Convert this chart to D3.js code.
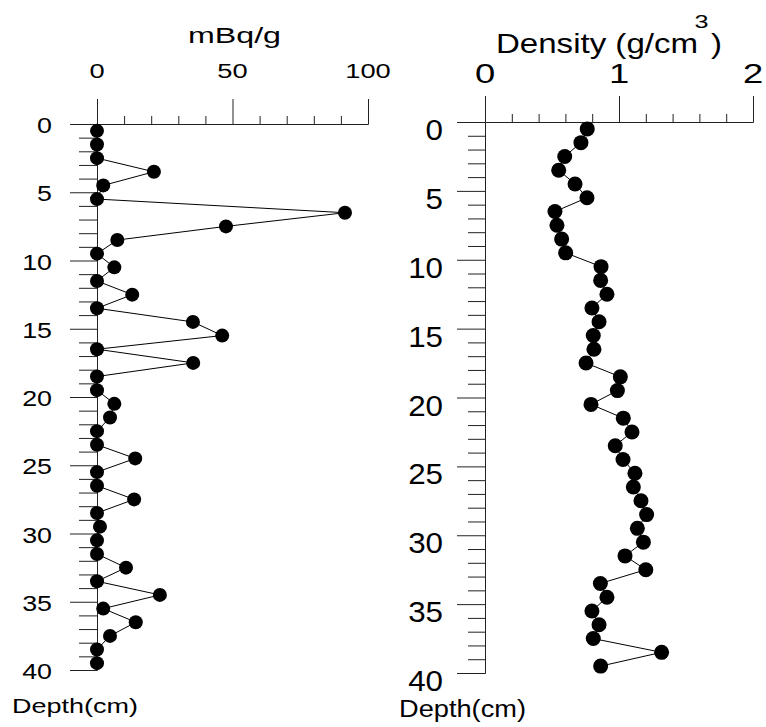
<!DOCTYPE html>
<html>
<head>
<meta charset="utf-8">
<script src="https://cdn.jsdelivr.net/npm/d3@7"></script>
<style>
  html, body { margin: 0; padding: 0; background: #fff; }
  svg text { font-family: "Liberation Sans", Arial, sans-serif; fill: #000; }
</style>
</head>
<body>
<div id="chart"></div>
<script>
// ---- data ----
const depths = [0.5,1.5,2.5,3.5,4.5,5.5,6.5,7.5,8.5,9.5,
                10.5,11.5,12.5,13.5,14.5,15.5,16.5,17.5,18.5,19.5,
                20.5,21.5,22.5,23.5,24.5,25.5,26.5,27.5,28.5,29.5,
                30.5,31.5,32.5,33.5,34.5,35.5,36.5,37.5,38.5,39.5];
const activity = [0,0,0,21,2.3,0,91.5,47.6,7.5,0,
                  6.4,0,13,0,35.4,46.2,0,35.5,0,0,
                  6.4,4.8,0,0,14.1,0,0,13.7,0,1.1,
                  0,0,10.7,0,23.2,2.3,14.3,4.8,0,0];
const density = [0.763,0.716,0.595,0.55,0.672,0.761,0.522,0.537,0.572,0.602,
                 0.866,0.863,0.91,0.798,0.851,0.808,0.813,0.754,1.01,0.988,
                 0.791,1.032,1.097,0.972,1.03,1.119,1.107,1.164,1.206,1.137,
                 1.182,1.045,1.2,0.861,0.91,0.798,0.851,0.808,1.318,0.863];
const actMajor = [0,50,100];
const actMinor = [10,20,30,40,60,70,80,90];
const denMajor = [0,1,2];
const denMinor = [0.2,0.4,0.6,0.8,1.2,1.4,1.6,1.8];
const depthMajor = [0,5,10,15,20,25,30,35,40];
const depthMinor = [1,2,3,4,6,7,8,9,11,12,13,14,16,17,18,19,21,22,23,24,26,27,28,29,31,32,33,34,36,37,38,39];

const W = 766, H = 727;
const svg = d3.select("#chart").append("svg").attr("width", W).attr("height", H);

function label(g, x, y, str, size, anchor, sx) {
  g.append("text")
    .attr("transform", `translate(${x},${y}) scale(${sx},1)`)
    .attr("text-anchor", anchor)
    .attr("font-size", size)
    .text(str);
}
function styleAxis(sel) {
  sel.selectAll("path.domain").attr("stroke", "#222").attr("stroke-width", 1);
  sel.selectAll(".tick line").attr("stroke", "#222").attr("stroke-width", 1);
  sel.selectAll(".tick text").remove();
}

// ---- left panel ----
const xL = d3.scaleLinear().domain([0, 100]).range([97, 368]);
const yL = d3.scaleLinear().domain([0, 40]).range([124, 670]);
const gL = svg.append("g");

gL.append("g").attr("transform", `translate(0,${yL(0)})`)
  .call(d3.axisTop(xL).tickValues(actMinor).tickSize(8).tickSizeOuter(0).tickFormat(""))
  .call(styleAxis);
gL.append("g").attr("transform", `translate(0,${yL(0)})`)
  .call(d3.axisTop(xL).tickValues(actMajor).tickSize(25).tickSizeOuter(0).tickFormat(""))
  .call(styleAxis);
gL.append("g").attr("transform", `translate(${xL(0)},0)`)
  .call(d3.axisLeft(yL).tickValues(depthMinor).tickSize(18).tickSizeOuter(0).tickFormat(""))
  .call(styleAxis);
gL.append("g").attr("transform", `translate(${xL(0)},0)`)
  .call(d3.axisLeft(yL).tickValues(depthMajor).tickSize(27).tickSizeOuter(0).tickFormat(""))
  .call(styleAxis);

actMajor.forEach(v => label(gL, xL(v), 78, String(v), 21, "middle", 1.3));
depthMajor.forEach(v => label(gL, 52, yL(v) + 9, String(v), 22, "end", 1.22));
gL.append("text").attr("x", 188).attr("y", 43).attr("font-size", 22)
  .attr("textLength", 93).attr("lengthAdjust", "spacingAndGlyphs").text("mBq/g");
gL.append("text").attr("x", 12).attr("y", 713).attr("font-size", 21)
  .attr("textLength", 126).attr("lengthAdjust", "spacingAndGlyphs").text("Depth(cm)");

gL.append("path")
  .datum(depths.map((d, i) => [activity[i], d]))
  .attr("fill", "none").attr("stroke", "#000").attr("stroke-width", 1)
  .attr("d", d3.line().x(d => xL(d[0])).y(d => yL(d[1])));
gL.selectAll("circle").data(depths).join("circle")
  .attr("cx", (d, i) => xL(activity[i])).attr("cy", d => yL(d))
  .attr("r", 7).attr("fill", "#000");

// ---- right panel ----
const xR = d3.scaleLinear().domain([0, 2]).range([485, 753]);
const yR = d3.scaleLinear().domain([0, 40]).range([122, 673]);
const gR = svg.append("g");

gR.append("g").attr("transform", `translate(0,${yR(0)})`)
  .call(d3.axisTop(xR).tickValues(denMinor).tickSize(8).tickSizeOuter(0).tickFormat(""))
  .call(styleAxis);
gR.append("g").attr("transform", `translate(0,${yR(0)})`)
  .call(d3.axisTop(xR).tickValues(denMajor).tickSize(26).tickSizeOuter(0).tickFormat(""))
  .call(styleAxis);
gR.append("g").attr("transform", `translate(${xR(0)},0)`)
  .call(d3.axisLeft(yR).tickValues(depthMinor).tickSize(17).tickSizeOuter(0).tickFormat(""))
  .call(styleAxis);
gR.append("g").attr("transform", `translate(${xR(0)},0)`)
  .call(d3.axisLeft(yR).tickValues(depthMajor).tickSize(28).tickSizeOuter(0).tickFormat(""))
  .call(styleAxis);

denMajor.forEach(v => label(gR, xR(v), 83, String(v), 28, "middle", 1.3));
depthMajor.forEach(v => label(gR, 443, yR(v) + 18, String(v), 29, "end", 1.08));
gR.append("text").attr("x", 496).attr("y", 53).attr("font-size", 28)
  .attr("textLength", 202).attr("lengthAdjust", "spacingAndGlyphs").text("Density (g/cm");
label(gR, 701.5, 28, "3", 18, "middle", 1.4);
label(gR, 711, 53, ")", 28, "start", 1.18);
gR.append("text").attr("x", 399).attr("y", 717).attr("font-size", 23)
  .attr("textLength", 127).attr("lengthAdjust", "spacingAndGlyphs").text("Depth(cm)");

gR.append("path")
  .datum(depths.map((d, i) => [density[i], d]))
  .attr("fill", "none").attr("stroke", "#000").attr("stroke-width", 1)
  .attr("d", d3.line().x(d => xR(d[0])).y(d => yR(d[1])));
gR.selectAll("circle").data(depths).join("circle")
  .attr("cx", (d, i) => xR(density[i])).attr("cy", d => yR(d))
  .attr("r", 7.5).attr("fill", "#000");
</script>
</body>
</html>
